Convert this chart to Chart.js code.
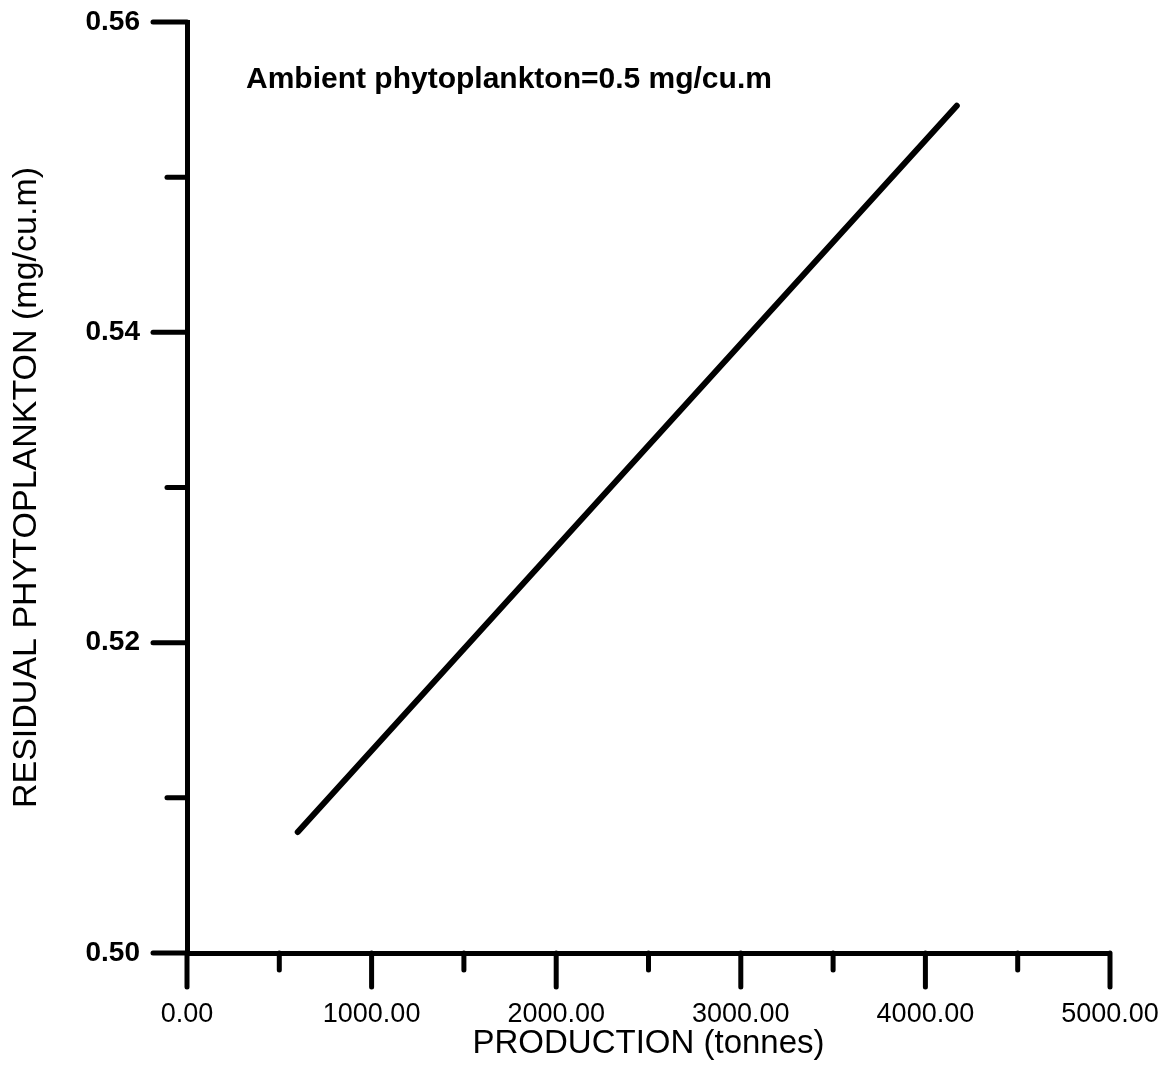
<!DOCTYPE html>
<html>
<head>
<meta charset="utf-8">
<script src="https://cdn.jsdelivr.net/npm/chart.js@4/dist/chart.umd.min.js"></script>
<style>
  html, body { margin: 0; padding: 0; background: #fff; }
  #wrap { width: 1168px; height: 1070px; }
</style>
</head>
<body>
<div id="wrap"><canvas id="chart" width="1168" height="1070"></canvas></div>
<script>
// data
const production = [600, 4170];
const residual = [0.5078, 0.5546];

const xTickLabels = ['0.00', '1000.00', '2000.00', '3000.00', '4000.00', '5000.00'];
const yTickLabels = ['0.50', '0.52', '0.54', '0.56'];
const annotationText = 'Ambient phytoplankton=0.5 mg/cu.m';

const FONT = 'Arial, "Liberation Sans", sans-serif';

function xLabel(v) {
    const i = Math.round(v / 1000);
    return Math.abs(v - i * 1000) < 1e-6 ? xTickLabels[i] : '';
}

function yLabel(v) {
    const hund = Math.round(v * 100);
    if (hund % 2 !== 0) return '';
    return yTickLabels[(hund - 50) / 2] || '';
}

// tick marks of two lengths, drawn from the scales themselves
const tickMarks = {
    id: 'tickMarks',
    afterDraw(chart) {
        const ctx = chart.ctx;
        const area = chart.chartArea;
        const xs = chart.scales.x, ys = chart.scales.y;
        ctx.save();
        ctx.strokeStyle = '#000';
        ctx.lineWidth = 5;
        ctx.lineCap = 'round';
        xs.ticks.forEach(t => {
            const px = xs.getPixelForValue(t.value);
            const len = xLabel(t.value) ? 34 : 17;
            ctx.beginPath();
            ctx.moveTo(px, area.bottom);
            ctx.lineTo(px, area.bottom + len);
            ctx.stroke();
        });
        ys.ticks.forEach(t => {
            const py = ys.getPixelForValue(t.value);
            const len = yLabel(t.value) ? 34 : 20;
            ctx.beginPath();
            ctx.moveTo(area.left - len, py);
            ctx.lineTo(area.left, py);
            ctx.stroke();
        });
        // annotation
        ctx.fillStyle = '#000';
        ctx.font = 'bold 30px ' + FONT;
        ctx.textAlign = 'left';
        ctx.textBaseline = 'alphabetic';
        ctx.fillText(annotationText, area.left + 59, area.top + 66);
        ctx.restore();
    }
};

new Chart(document.getElementById('chart'), {
    type: 'scatter',
    data: {
        datasets: [{
            data: production.map((p, i) => ({x: p, y: residual[i]})),
            showLine: true,
            borderColor: '#000',
            borderWidth: 6,
            borderCapStyle: 'round',
            pointRadius: 0,
            fill: false
        }]
    },
    options: {
        responsive: false,
        animation: false,
        devicePixelRatio: 1,
        layout: { padding: { left: 0, top: 22, right: 58, bottom: 0 } },
        plugins: {
            legend: { display: false },
            tooltip: { enabled: false }
        },
        scales: {
            x: {
                type: 'linear',
                min: 0,
                max: 5000,
                afterFit(scale) {
                    scale.height = 117;
                    scale.paddingLeft = 0;
                    scale.paddingRight = 0;
                },
                border: { display: true, color: '#000', width: 5 },
                grid: { display: true, drawOnChartArea: false, drawTicks: false, color: 'rgba(0,0,0,0)' },
                ticks: {
                    stepSize: 500,
                    autoSkip: false,
                    maxRotation: 0,
                    padding: 45,
                    color: '#000',
                    font: { family: FONT, size: 27 },
                    callback: v => xLabel(v)
                },
                title: {
                    display: true,
                    text: 'PRODUCTION (tonnes)',
                    color: '#000',
                    font: { family: FONT, size: 33 },
                    padding: { top: 0, bottom: 6 }
                }
            },
            y: {
                type: 'linear',
                min: 0.50,
                max: 0.56,
                afterFit(scale) {
                    scale.width = 187;
                    scale.paddingTop = 0;
                    scale.paddingBottom = 0;
                },
                border: { display: true, color: '#000', width: 5 },
                grid: { display: true, drawOnChartArea: false, drawTicks: false, color: 'rgba(0,0,0,0)' },
                ticks: {
                    stepSize: 0.01,
                    autoSkip: false,
                    padding: 47,
                    color: '#000',
                    font: { family: FONT, size: 28, weight: 'bold' },
                    callback: v => yLabel(v)
                },
                title: {
                    display: true,
                    text: 'RESIDUAL PHYTOPLANKTON (mg/cu.m)',
                    color: '#000',
                    font: { family: FONT, size: 34 },
                    padding: { top: 6, bottom: 0 }
                }
            }
        }
    },
    plugins: [tickMarks]
});
</script>
</body>
</html>
